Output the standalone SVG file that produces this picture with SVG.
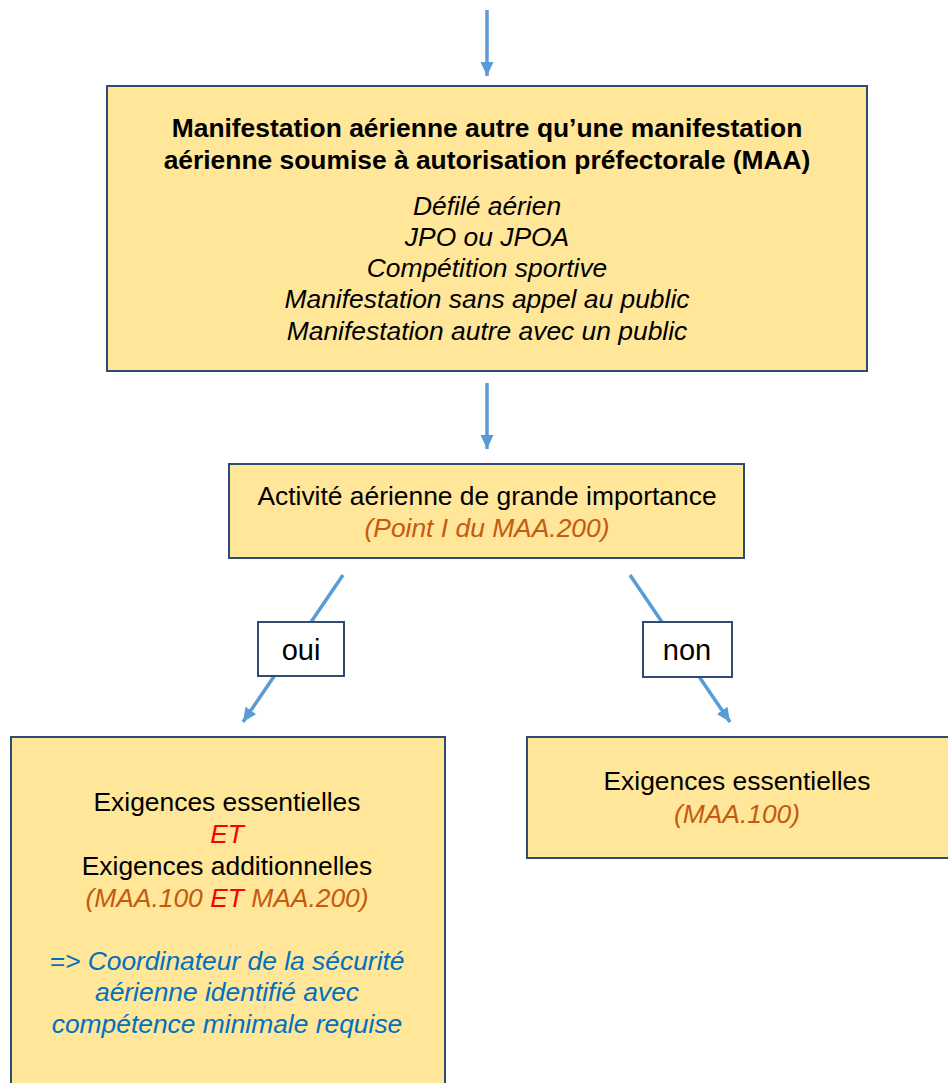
<svg xmlns="http://www.w3.org/2000/svg" width="948" height="1083" viewBox="0 0 948 1083">
<defs>
<marker id="ah" markerWidth="15" markerHeight="14" refX="14" refY="7" orient="auto" markerUnits="userSpaceOnUse">
<path d="M0,0.5 L14,7 L0,13.5 Z" fill="#5B9BD5"/>
</marker>
<style>
.box{fill:#FFE699;stroke:#2F4B73;stroke-width:2}
.lbl{fill:#FFFFFF;stroke:#2F4B73;stroke-width:2}
.con{stroke:#5B9BD5;stroke-width:3.5;fill:none}
text{font-family:"Liberation Sans",Arial,sans-serif;text-anchor:middle;fill:#000}
.b{font-weight:bold;font-size:26.4px}
.i{font-style:italic;font-size:26.4px}
.n{font-size:26.4px}
.or{fill:#C55A11}
.red{fill:#FF0000}
.bl{fill:#0070C0}
</style>
</defs>
<g id="connectors">
<line class="con" x1="487" y1="10" x2="487" y2="76" marker-end="url(#ah)"/>
<line class="con" x1="487" y1="383" x2="487" y2="449" marker-end="url(#ah)"/>
<line class="con" x1="343" y1="575" x2="243" y2="722" marker-end="url(#ah)"/>
<line class="con" x1="630" y1="575" x2="730" y2="722" marker-end="url(#ah)"/>
</g>
<g id="node-maa">
<rect class="box" x="107" y="86" width="760" height="285"/>
<text class="b" x="487" y="137">Manifestation aérienne autre qu’une manifestation</text>
<text class="b" x="487" y="169">aérienne soumise à autorisation préfectorale (MAA)</text>
<text class="i" x="487" y="215">Défilé aérien</text>
<text class="i" x="487" y="246">JPO ou JPOA</text>
<text class="i" x="487" y="277">Compétition sportive</text>
<text class="i" x="487" y="308">Manifestation sans appel au public</text>
<text class="i" x="487" y="340">Manifestation autre avec un public</text>
</g>
<g id="node-activite">
<rect class="box" x="229" y="464" width="515" height="94"/>
<text class="n" x="487" y="505">Activité aérienne de grande importance</text>
<text class="i or" x="487" y="537">(Point I du MAA.200)</text>
</g>
<g id="label-oui">
<rect class="lbl" x="258" y="622" width="86" height="54"/>
<text class="n" x="301" y="660" style="font-size:29px">oui</text>
</g>
<g id="label-non">
<rect class="lbl" x="643" y="622" width="89" height="55"/>
<text class="n" x="687" y="660" style="font-size:29px">non</text>
</g>
<g id="node-oui">
<rect class="box" x="11" y="737" width="434" height="360"/>
<text class="n" x="227" y="811">Exigences essentielles</text>
<text class="i red" x="227" y="843">ET</text>
<text class="n" x="227" y="875">Exigences additionnelles</text>
<text class="i or" x="227" y="907">(MAA.100 <tspan class="red">ET</tspan> MAA.200)</text>
<text class="i bl" x="227" y="970">=&gt; Coordinateur de la sécurité</text>
<text class="i bl" x="227" y="1001">aérienne identifié avec</text>
<text class="i bl" x="227" y="1033">compétence minimale requise</text>
</g>
<g id="node-non">
<rect class="box" x="527" y="737" width="430" height="121"/>
<text class="n" x="737" y="790">Exigences essentielles</text>
<text class="i or" x="737" y="823">(MAA.100)</text>
</g>
</svg>
